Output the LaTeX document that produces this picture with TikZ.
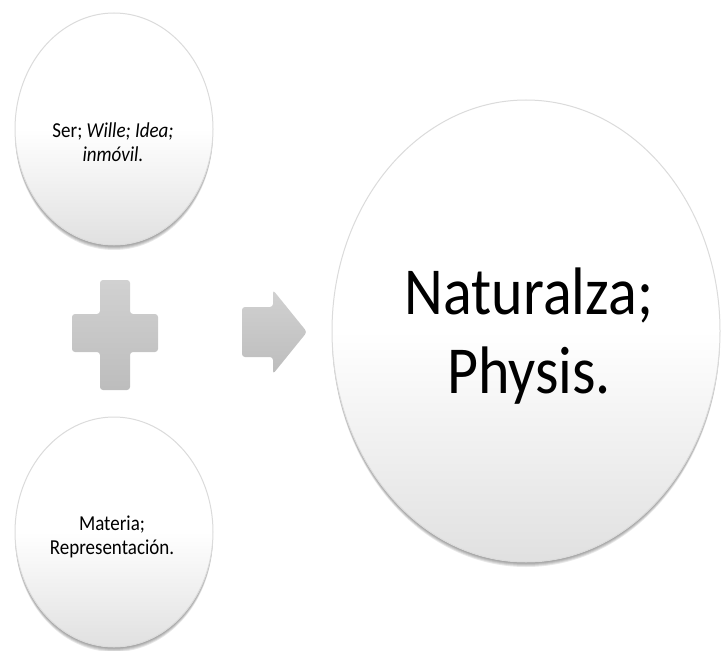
\documentclass[tikz,border=0pt]{standalone}
\usepackage{fontspec}
\setmainfont{Carlito}
\def \bubbleSer{ (114, 129) ellipse (99 and 116) }
\def \bubbleMat{ (114, 532) ellipse (99 and 115) }
\def \bubbleNat{ (526, 331) ellipse (194 and 231) }
\def \signPlus{ (100, 280) -- (130, 280) -- (130, 314) -- (158, 314) -- (158, 352) -- (130, 352)
  -- (130, 390) -- (100, 390) -- (100, 352) -- (72, 352) -- (72, 314) -- (100, 314) -- cycle }
\def \signArrow{ (242, 307) -- (273, 307) -- (273, 290) -- (307, 332) -- (273, 374) -- (273, 357)
  -- (242, 357) -- cycle }
\definecolor{rimgray}{gray}{0.86}
\definecolor{lowgray}{gray}{0.88}
\definecolor{signtop}{gray}{0.82}
\definecolor{signbottom}{gray}{0.74}
\usetikzlibrary{shapes, backgrounds}

\begin{document}
\begin{tikzpicture}[x=1pt, y=-1pt,
  bubble/.style={top color=white, bottom color=lowgray, middle color=white, draw=rimgray, line width=1pt},
  halo/.style={fill=black, opacity=0.09},
  sign/.style={top color=signtop, bottom color=signbottom, rounded corners=3pt},
  tall/.style={yscale=1.12, transform shape},
  small/.style={align=center, font=\fontsize{19}{21}\selectfont},
  big/.style={align=center, font=\fontsize{60}{70}\selectfont}]
\useasboundingbox (0, 0) rectangle (722, 650);
% shadows under the bubbles
\foreach \s in {1, 2, 3, 4, 5} {
  \fill[halo, shift={(0, \s)}] \bubbleSer;
  \fill[halo, shift={(0, \s)}] \bubbleMat;
  \fill[halo, shift={(0, \s)}] \bubbleNat;
}
\path[bubble] \bubbleSer;
\path[bubble] \bubbleMat;
\path[bubble] \bubbleNat;

\path[sign] \signPlus;
\path[sign] \signArrow;

\begin{scope}[shift={(113, 142)}, tall]
 \node[small] (ser) at (0, 0) {Ser; \textit{Wille; Idea;}\\\textit{inmóvil.}};
\end{scope}
\begin{scope}[shift={(112, 537)}, tall]
 \node[small] (materia) at (0, 0) {Materia;\\Representación.};
\end{scope}
\begin{scope}[shift={(529, 336)}, tall]
 \node[big] (naturalza) at (0, 0) {Naturalza;\\Physis.};
\end{scope}
\end{tikzpicture}
\end{document}
